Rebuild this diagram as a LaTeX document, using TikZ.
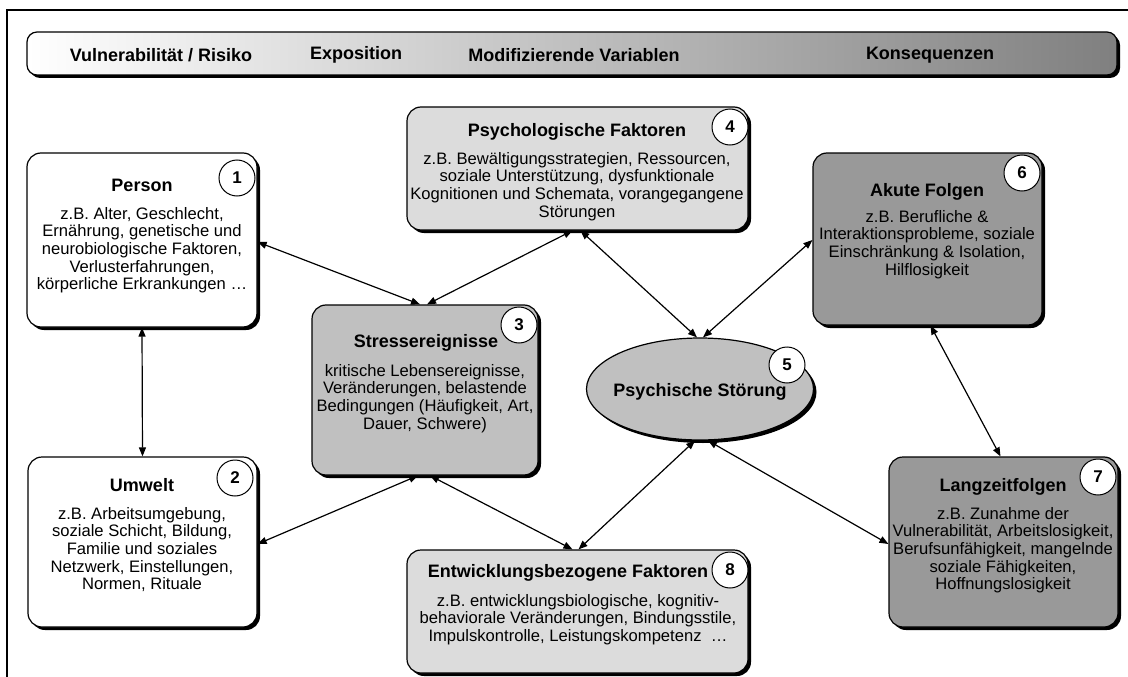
\documentclass[tikz,border=0pt]{standalone}
\usepackage{fontspec}
\setmainfont{Liberation Sans}
\usetikzlibrary{shadows,arrows.meta,shapes.geometric}
\definecolor{lgray}{RGB}{220,220,220}
\definecolor{mgray}{RGB}{192,192,192}
\definecolor{dgray}{RGB}{153,153,153}
\tikzset{
  box/.style={draw, line width=1.2pt, rounded corners=14pt, inner sep=0pt,
    drop shadow={shadow xshift=3pt, shadow yshift=-3pt, opacity=1, fill=black}},
  num/.style={circle, draw, line width=1pt, fill=white, minimum size=36pt, inner sep=0pt,
    font=\fontsize{17}{19}\selectfont\bfseries},
  ttl/.style={inner sep=0pt, font=\fontsize{18}{20}\selectfont\bfseries},
  body/.style={inner sep=0pt, anchor=north, align=center, font=\fontsize{16.6}{17.6}\selectfont},
  link/.style={{Triangle[length=9pt,width=7pt]}-{Triangle[length=9pt,width=7pt]}, line width=1.2pt},
}
\begin{document}
\begin{tikzpicture}[x=1pt,y=-1pt]
\useasboundingbox (0,0) rectangle (1128,677);
% frame
\draw[line width=2pt] (7,677) -- (7,10) -- (1128,10);
% header
\node[box, rounded corners=10pt, left color=white, right color=black!50,
  minimum width=1090pt, minimum height=43pt] (hdr) at (572,53.5) {};
\node[ttl] (h1) at (161,55) {Vulnerabilität / Risiko};
\node[ttl] (h2) at (356,55) {Exposition};
\node[ttl] (h3) at (574,55) {Modifizierende Variablen};
\node[ttl] (h4) at (930,55) {Konsequenzen};
% boxes
\node[box, fill=white, minimum width=230pt, minimum height=174pt] (b1) at (142,240) {};
\node[box, fill=white, minimum width=229pt, minimum height=170pt] (b2) at (142.5,542) {};
\node[box, fill=mgray, minimum width=226pt, minimum height=170pt] (b3) at (425,390) {};
\node[box, fill=lgray, minimum width=341pt, minimum height=123pt] (b4) at (577.5,168.5) {};
\node[box, ellipse, fill=mgray, minimum width=227pt, minimum height=102pt] (b5) at (700,389) {};
\node[box, fill=dgray, minimum width=229pt, minimum height=172pt] (b6) at (927.5,239) {};
\node[box, fill=dgray, minimum width=229pt, minimum height=170pt] (b7) at (1003.5,542) {};
\node[box, fill=lgray, minimum width=341pt, minimum height=123pt] (b8) at (577.5,611.5) {};
% numbers
\node[num] (n1) at (237,178) {1};
\node[num] (n2) at (235,478) {2};
\node[num] (n3) at (519,325) {3};
\node[num] (n4) at (730,127) {4};
\node[num] (n5) at (787,365) {5};
\node[num] (n6) at (1022,173) {6};
\node[num] (n7) at (1098,477) {7};
\node[num] (n8) at (730,570) {8};
% titles
\node[ttl] (t1) at (142,185) {Person};
\node[ttl] (t2) at (142,485) {Umwelt};
\node[ttl] (t3) at (426,343) {Stressereignisse};
\node[ttl] (t4) at (577,132) {Psychologische Faktoren};
\node[ttl] (t5) at (700,392) {Psychische Störung};
\node[ttl] (t6) at (927,192) {Akute Folgen};
\node[ttl] (t7) at (1003,487) {Langzeitfolgen};
\node[ttl] (t8) at (568,573) {Entwicklungsbezogene Faktoren};
% bodies
\node[body] (d1) at (142,207) {z.B. Alter, Geschlecht,\\ Ernährung, genetische und\\ neurobiologische Faktoren,\\ Verlusterfahrungen,\\ körperliche Erkrankungen …};
\node[body] (d2) at (142,507) {z.B. Arbeitsumgebung,\\ soziale Schicht, Bildung,\\ Familie und soziales\\ Netzwerk, Einstellungen,\\ Normen, Rituale};
\node[body] (d3) at (425,364) {kritische Lebensereignisse,\\ Veränderungen, belastende\\ Bedingungen (Häufigkeit, Art,\\ Dauer, Schwere)};
\node[body] (d4) at (577,152) {z.B. Bewältigungsstrategien, Ressourcen,\\ soziale Unterstützung, dysfunktionale\\ Kognitionen und Schemata, vorangegangene\\ Störungen};
\node[body] (d6) at (927,210) {z.B. Berufliche \&\\ Interaktionsprobleme, soziale\\ Einschränkung \& Isolation,\\ Hilflosigkeit};
\node[body] (d7) at (1003,507) {z.B. Zunahme der\\ Vulnerabilität, Arbeitslosigkeit,\\ Berufsunfähigkeit, mangelnde\\ soziale Fähigkeiten,\\ Hoffnungslosigkeit};
\node[body] (d8) at (578,594) {z.B. entwicklungsbiologische, kognitiv-\\ behaviorale Veränderungen, Bindungsstile,\\ Impulskontrolle, Leistungskompetenz \ …};
% connectors
\draw[link] ([yshift=-2pt]b1.east) -- ([xshift=-5pt]b3.north);
\draw[link] (b1.south) -- (b2.north);
\draw[link] ([xshift=-7pt]b3.south) -- ([yshift=-2pt]b2.east);
\draw[link] ([xshift=-5pt]b4.south) -- ([xshift=2pt]b3.north);
\draw[link] ([xshift=3pt]b4.south) -- ([xshift=-3pt]b5.north);
\draw[link] ([xshift=3pt]b5.north) -- ([yshift=-1pt]b6.west);
\draw[link] ([xshift=3pt]b6.south) -- ([xshift=-3pt]b7.north);
\draw[link] ([xshift=5pt]b3.south) -- ([xshift=-5pt]b8.north);
\draw[link] ([xshift=-5pt]b5.south) -- ([xshift=1pt]b8.north);
\draw[link] ([xshift=8pt]b5.south) -- ([yshift=-2pt]b7.west);
\end{tikzpicture}
\end{document}
